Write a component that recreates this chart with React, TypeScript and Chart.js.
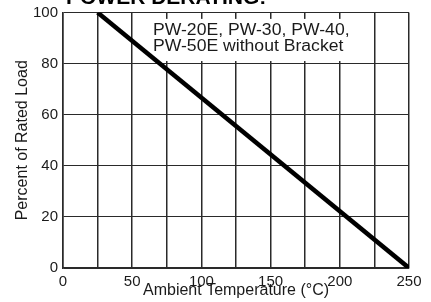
import React, { useEffect, useRef } from 'react';
import { Chart, registerables } from 'chart.js';

Chart.register(...registerables);

// ---- data ----
const temperatures = [25, 250];
const ratedLoad = [100, 0];
const xTickValues = [0, 25, 50, 75, 100, 125, 150, 175, 200, 225, 250];
const xTickLabels = ['0', '', '50', '', '100', '', '150', '', '200', '', '250'];
const yTickValues = [0, 20, 40, 60, 80, 100];
const chartTitle = 'POWER DERATING:';
const xTitle = 'Ambient Temperature (°C)';
const yTitle = 'Percent of Rated Load';
const noteLines = ['PW-20E, PW-30, PW-40,', 'PW-50E without Bracket'];
// note box in data units (temperature, percent)
const noteBoxX = [57, 212];
const noteBoxY = [81, 97.5];
const noteTextX = 65;
const noteTextY = [91.2, 84.8];

const FONT = '"Liberation Sans", Arial, Helvetica, sans-serif';

const notePlugin = {
  id: 'notePlugin',
  beforeDatasetsDraw(chart: any) {
    const { ctx, scales } = chart;
    const x = scales.x;
    const y = scales.y;
    ctx.save();
    const l = x.getPixelForValue(noteBoxX[0]);
    const r = x.getPixelForValue(noteBoxX[1]);
    const t = y.getPixelForValue(noteBoxY[1]);
    const b = y.getPixelForValue(noteBoxY[0]);
    ctx.fillStyle = '#ffffff';
    ctx.fillRect(l, t, r - l, b - t);
    ctx.fillStyle = '#1a1a1a';
    ctx.font = '16px ' + FONT;
    ctx.textBaseline = 'alphabetic';
    ctx.textAlign = 'left';
    noteLines.forEach((line, i) => {
      ctx.save();
      ctx.translate(x.getPixelForValue(noteTextX), y.getPixelForValue(noteTextY[i]));
      ctx.scale(1.1, 1);
      ctx.fillText(line, 0, 0);
      ctx.restore();
    });
    ctx.restore();
  },
  afterDraw(chart: any) {
    const { ctx } = chart;
    ctx.save();
    ctx.fillStyle = '#000';
    ctx.font = 'bold 21px ' + FONT;
    ctx.textBaseline = 'alphabetic';
    ctx.textAlign = 'left';
    ctx.fillText(chartTitle, 66, 4);
    ctx.restore();
  },
};

export default function App() {
  const canvasRef = useRef<HTMLCanvasElement | null>(null);

  useEffect(() => {
    if (!canvasRef.current) return;
    const chart = new Chart(canvasRef.current, {
      type: 'line',
      data: {
        datasets: [
          {
            label: 'Rated Load',
            data: temperatures.map((t, i) => ({ x: t, y: ratedLoad[i] })),
            borderColor: '#000',
            borderWidth: 4.5,
            pointRadius: 0,
            fill: false,
            tension: 0,
          },
        ],
      },
      options: {
        animation: false,
        responsive: true,
        maintainAspectRatio: false,
        layout: { padding: { top: 7.5, right: 22, left: 0, bottom: 0 } },
        plugins: {
          legend: { display: false },
          tooltip: { enabled: false },
          title: { display: false },
        },
        scales: {
          x: {
            type: 'linear',
            min: 0,
            max: 250,
            afterBuildTicks: (scale: any) => {
              scale.ticks = xTickValues.map((v) => ({ value: v }));
            },
            afterFit: (scale: any) => {
              scale.height = 34;
            },
            grid: { color: '#2a2a2a', lineWidth: 1.5, drawTicks: false },
            border: { display: true, color: '#2a2a2a', width: 1.5 },
            ticks: {
              autoSkip: false,
              maxRotation: 0,
              padding: 6,
              color: '#1a1a1a',
              font: { family: FONT, size: 15, lineHeight: 1 },
              callback: (_v: any, i: number) => xTickLabels[i],
            },
            title: {
              display: true,
              text: xTitle,
              color: '#1a1a1a',
              font: { family: FONT, size: 16 },
              padding: { top: 0, bottom: 1.4 },
            },
          },
          y: {
            type: 'linear',
            min: 0,
            max: 100,
            afterBuildTicks: (scale: any) => {
              scale.ticks = yTickValues.map((v) => ({ value: v }));
            },
            afterFit: (scale: any) => {
              scale.width = 63;
            },
            grid: { color: '#2a2a2a', lineWidth: 1, drawTicks: false },
            border: { display: true, color: '#2a2a2a', width: 1.5 },
            ticks: {
              padding: 5,
              color: '#1a1a1a',
              font: { family: FONT, size: 15, lineHeight: 1 },
            },
            title: {
              display: true,
              text: yTitle,
              color: '#1a1a1a',
              font: { family: FONT, size: 16 },
              padding: { top: 13.4, bottom: 0 },
            },
          },
        },
      },
      plugins: [notePlugin],
    });
    return () => chart.destroy();
  }, []);

  return (
    <div style={{ position: 'absolute', left: 0, top: 0, width: 431, height: 302, background: '#fff' }}>
      <canvas ref={canvasRef} />
    </div>
  );
}
